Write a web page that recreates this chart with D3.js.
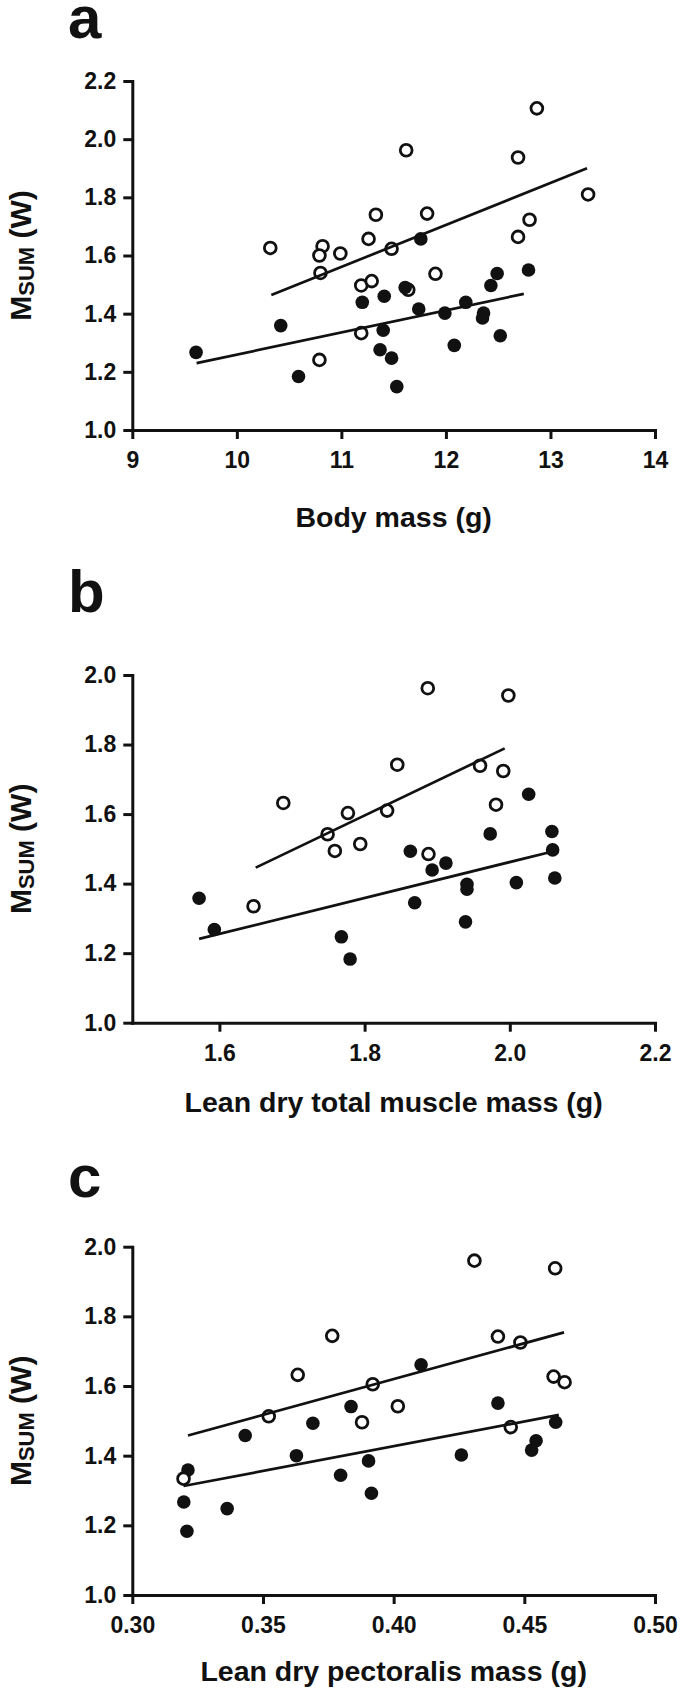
<!DOCTYPE html>
<html>
<head>
<meta charset="utf-8">
<script src="https://cdn.jsdelivr.net/npm/d3@7"></script>
<style>
  html, body { margin: 0; padding: 0; background: #fff; }
  svg { display: block; }
  text { font-family: "Liberation Sans", Arial, sans-serif; font-weight: bold; fill: #111; }
</style>
</head>
<body>
<svg id="chart" width="685" height="1694"></svg>
<script>
// ---------- Data ----------
// Panel a: body mass (g) vs Msum (W)
const bodyMassOpen = [10.32,10.82,10.79,10.99,10.80,11.26,11.33,11.62,11.48,11.82,11.90,11.19,11.29,12.69,12.87,13.36,12.80,12.69,11.19,10.79,11.64];
const msumOpenA    = [1.626,1.632,1.600,1.607,1.540,1.657,1.740,1.962,1.623,1.744,1.537,1.497,1.512,1.937,2.106,1.810,1.723,1.664,1.333,1.241,1.482];
const bodyMassFilled = [11.76,12.49,12.79,12.43,11.61,11.41,11.20,11.74,11.99,12.19,12.36,12.35,10.42,11.40,12.52,9.61,12.08,11.37,11.48,10.59,11.53];
const msumFilledA    = [1.657,1.538,1.550,1.497,1.490,1.460,1.439,1.416,1.402,1.439,1.402,1.385,1.359,1.343,1.324,1.267,1.291,1.276,1.247,1.184,1.149];
const fitOpenA   = {x: [10.33, 13.35], y: [1.464, 1.900]};
const fitFilledA = {x: [9.615, 12.745], y: [1.230, 1.468]};

// Panel b: lean dry total muscle mass (g) vs Msum (W)
const muscleOpen = [1.887,1.998,1.845,1.959,1.991,1.688,1.777,1.831,1.981,1.749,1.759,1.794,1.888,1.647];
const msumOpenB  = [1.962,1.941,1.742,1.739,1.724,1.632,1.603,1.610,1.627,1.542,1.494,1.514,1.485,1.335];
const muscleFilled = [2.026,2.058,1.973,2.059,2.062,1.863,1.912,1.893,1.941,1.941,2.009,1.869,1.939,1.572,1.593,1.768,1.780];
const msumFilledB  = [1.657,1.550,1.543,1.497,1.416,1.493,1.459,1.439,1.398,1.384,1.403,1.345,1.290,1.358,1.268,1.247,1.183];
const fitOpenB   = {x: [1.650, 1.993], y: [1.446, 1.789]};
const fitFilledB = {x: [1.572, 2.059], y: [1.241, 1.4925]};

// Panel c: lean dry pectoralis mass (g) vs Msum (W)
const pectOpen = [0.4309,0.4618,0.3765,0.4399,0.4485,0.3633,0.3920,0.4612,0.4654,0.3522,0.4016,0.3879,0.4448,0.3196];
const msumOpenC = [1.960,1.938,1.744,1.742,1.725,1.632,1.605,1.627,1.611,1.513,1.542,1.496,1.482,1.334];
const pectFilled = [0.4105,0.4399,0.3837,0.3691,0.3432,0.4620,0.4545,0.4528,0.3628,0.4259,0.3904,0.3213,0.3797,0.3915,0.3197,0.3363,0.3209];
const msumFilledC = [1.661,1.551,1.541,1.493,1.458,1.496,1.443,1.416,1.400,1.402,1.385,1.359,1.344,1.292,1.267,1.248,1.183];
const fitOpenC   = {x: [0.3213, 0.4652], y: [1.458, 1.754]};
const fitFilledC = {x: [0.3196, 0.4632], y: [1.313, 1.517]};

// Axis ticks
const yTicksA = [1.0,1.2,1.4,1.6,1.8,2.0,2.2];
const yTicksBC = [1.0,1.2,1.4,1.6,1.8,2.0];
const xTicksA = [9,10,11,12,13,14];
const xTicksB = [1.6,1.8,2.0,2.2];
const xTicksC = [0.30,0.35,0.40,0.45,0.50];

const panelLabels = ["a","b","c"];
const xTitles = ["Body mass (g)","Lean dry total muscle mass (g)","Lean dry pectoralis mass (g)"];

// ---------- Layout ----------
const svg = d3.select("#chart");
const left = 132.3, right = 655;

const panels = [
  {label: panelLabels[0], top: 81, bottom: 430, labelY: 38, titleY: 527,
   xDomain: [9,14], yDomain: [1.0,2.2], xTicks: xTicksA, yTicks: yTicksA, xFmt: d3.format("d"),
   open: {x: bodyMassOpen, y: msumOpenA}, filled: {x: bodyMassFilled, y: msumFilledA},
   fitOpen: fitOpenA, fitFilled: fitFilledA, openOnTop: false, title: xTitles[0]},
  {label: panelLabels[1], top: 675, bottom: 1022.7, labelY: 612, titleY: 1112,
   xDomain: [1.48,2.2], yDomain: [1.0,2.0], xTicks: xTicksB, yTicks: yTicksBC, xFmt: d3.format(".1f"),
   open: {x: muscleOpen, y: msumOpenB}, filled: {x: muscleFilled, y: msumFilledB},
   fitOpen: fitOpenB, fitFilled: fitFilledB, openOnTop: false, title: xTitles[1]},
  {label: panelLabels[2], top: 1246.7, bottom: 1595, labelY: 1197, titleY: 1681,
   xDomain: [0.30,0.50], yDomain: [1.0,2.0], xTicks: xTicksC, yTicks: yTicksBC, xFmt: d3.format(".2f"),
   open: {x: pectOpen, y: msumOpenC}, filled: {x: pectFilled, y: msumFilledC},
   fitOpen: fitOpenC, fitFilled: fitFilledC, openOnTop: true, title: xTitles[2]}
];

const R_FILLED = 6.8, R_OPEN = 5.9;

panels.forEach(p => {
  const x = d3.scaleLinear().domain(p.xDomain).range([left, right]);
  const y = d3.scaleLinear().domain(p.yDomain).range([p.bottom, p.top]);
  const g = svg.append("g");

  // panel letter
  g.append("text").attr("x", 68).attr("y", p.labelY)
    .style("font-size", "60px").text(p.label);

  // axes
  const yAxis = d3.axisLeft(y).tickValues(p.yTicks).tickFormat(d3.format(".1f"))
    .tickSize(9).tickSizeOuter(0).tickPadding(7);
  const xAxis = d3.axisBottom(x).tickValues(p.xTicks).tickFormat(p.xFmt)
    .tickSize(9).tickSizeOuter(0).tickPadding(13);

  const ya = g.append("g").attr("transform", `translate(${left},0)`).call(yAxis);
  const xa = g.append("g").attr("transform", `translate(0,${p.bottom})`).call(xAxis);
  [ya, xa].forEach(a => {
    a.select(".domain").attr("stroke", "#111").attr("stroke-width", 3).attr("stroke-linecap", "square");
    a.selectAll(".tick line").attr("stroke", "#111").attr("stroke-width", 3);
    a.selectAll(".tick text").style("font-size", "23px").attr("fill", "#111")
      .style("font-family", '"Liberation Sans", Arial, sans-serif').style("font-weight", "bold");
  });

  // y label
  const yl = g.append("text")
    .attr("transform", `translate(31,${(p.top + p.bottom) / 2}) rotate(-90)`)
    .attr("text-anchor", "middle").style("font-size", "30px");
  yl.append("tspan").text("M");
  yl.append("tspan").attr("dy", 3).style("font-size", "22px").text("SUM");
  yl.append("tspan").attr("dy", -3).text(" (W)");

  // x title
  g.append("text").attr("x", (left + right) / 2).attr("y", p.titleY)
    .attr("text-anchor", "middle").style("font-size", "28.5px").text(p.title);

  const openData = p.open.x.map((v, i) => [v, p.open.y[i]]);
  const filledData = p.filled.x.map((v, i) => [v, p.filled.y[i]]);

  const drawOpen = () => g.append("g").selectAll("circle").data(openData).join("circle")
    .attr("cx", d => x(d[0])).attr("cy", d => y(d[1])).attr("r", R_OPEN)
    .attr("fill", "#fff").attr("stroke", "#111").attr("stroke-width", 2.8);
  const drawFilled = () => g.append("g").selectAll("circle").data(filledData).join("circle")
    .attr("cx", d => x(d[0])).attr("cy", d => y(d[1])).attr("r", R_FILLED)
    .attr("fill", "#111");

  if (p.openOnTop) { drawFilled(); drawOpen(); } else { drawOpen(); drawFilled(); }

  // regression lines
  const line = d3.line().x(d => x(d[0])).y(d => y(d[1]));
  [p.fitOpen, p.fitFilled].forEach(f => {
    g.append("path").datum(f.x.map((v, i) => [v, f.y[i]]))
      .attr("d", line).attr("fill", "none").attr("stroke", "#111").attr("stroke-width", 2.7);
  });
});
</script>
</body>
</html>
